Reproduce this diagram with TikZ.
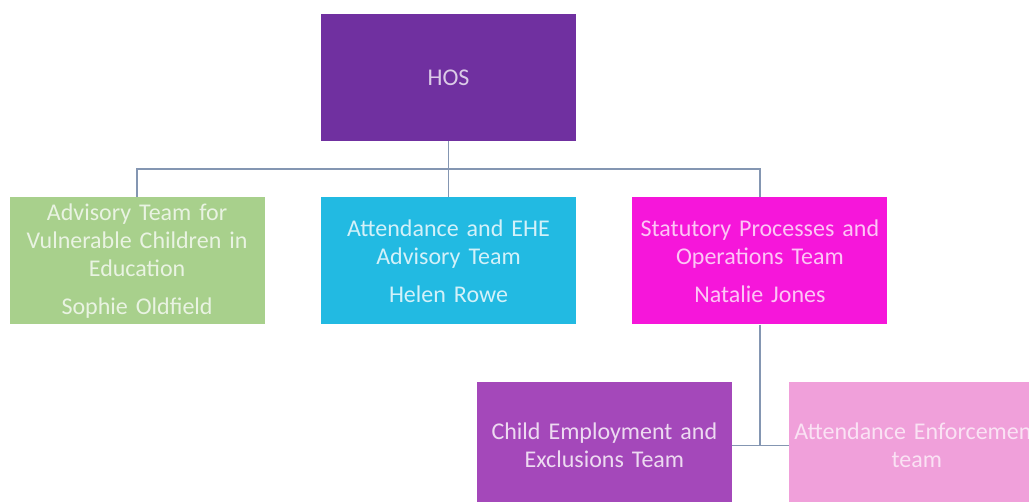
\documentclass[tikz,border=0pt]{standalone}
\usepackage{fontspec}
\setmainfont{Carlito}
\usetikzlibrary{positioning, calc}

\definecolor{hospurple}{RGB}{112,48,160}
\definecolor{advgreen}{RGB}{168,208,140}
\definecolor{attblue}{RGB}{34,186,226}
\definecolor{statmagenta}{RGB}{246,22,218}
\definecolor{childpurple}{RGB}{164,72,186}
\definecolor{enfpink}{RGB}{240,160,218}
\definecolor{linkgrey}{RGB}{132,150,178}

\begin{document}
\begin{tikzpicture}[
        x=1pt, y=-1pt,
        node distance=56pt and 56pt,
        team/.style={rectangle, minimum width=255pt, minimum height=127pt, inner sep=2pt, align=center, text width=251pt, font=\fontsize{24}{28}\selectfont},
        link/.style={draw=linkgrey, line width=1.5pt}
    ]
        \useasboundingbox (0,0) rectangle (1029,502);
        \clip (0,0) rectangle (1029,502);

        % Head of service
        \node[team, fill=hospurple, text=hospurple!25!white] (hos) at (448.5,77.5) {HOS};

        % Second row
        \node[team, fill=attblue, text=attblue!20!white, below=56pt of hos] (attend) {Attendance and EHE\\Advisory Team\\[10pt]Helen Rowe};
        \node[team, fill=advgreen, text=advgreen!25!white, left=56pt of attend] (advisory) {Advisory Team for\\Vulnerable Children in\\Education\\[10pt]Sophie Oldfield};
        \node[team, fill=statmagenta, text=statmagenta!25!white, right=56pt of attend] (statutory) {Statutory Processes and\\Operations Team\\[10pt]Natalie Jones};

        % Third row
        \node[team, fill=childpurple, text=childpurple!20!white, below=57pt of statutory, xshift=-155.5pt] (child) {Child Employment and\\Exclusions Team};
        \node[team, fill=enfpink, text=enfpink!30!white, right=57pt of child] (enforce) {Attendance Enforcement\\team};

        % Connectors
        \coordinate (bus) at ($(hos.south)!0.5!(attend.north)$);
        \draw[link] (hos.south) -- (attend.north);
        \draw[link] (advisory.north) |- (bus) -| (statutory.north);
        \draw[link] (statutory.south) -- (statutory.south |- child.east);
        \draw[link] (child.east) -- (enforce.west);

    \end{tikzpicture}
\end{document}
